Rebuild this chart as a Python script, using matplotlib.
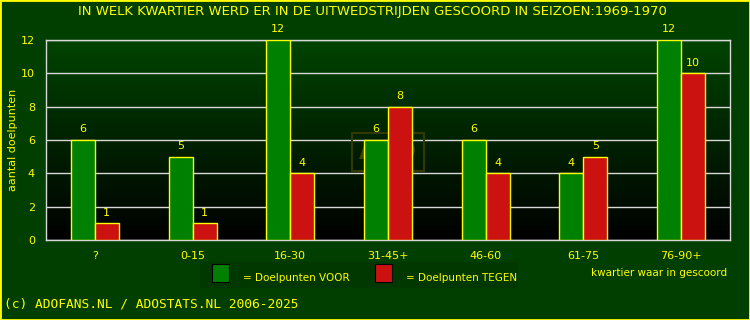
import numpy as np
import matplotlib
matplotlib.use("Agg")
import matplotlib.pyplot as plt
from matplotlib.patches import Rectangle

# -------- DATA --------
categories = ["?", "0-15", "16-30", "31-45+", "46-60", "61-75", "76-90+"]
voor = [6, 5, 12, 6, 6, 4, 12]
tegen = [1, 1, 4, 8, 4, 5, 10]
yticks = [0, 2, 4, 6, 8, 10, 12]

BG = "#003f00"
YEL = "#ffff00"
GREEN = "#008000"
RED = "#cc1111"

fig = plt.figure(figsize=(7.5, 3.2), dpi=100, facecolor=BG)
ax = fig.add_axes([46 / 750, 1 - 240 / 320, 684 / 750, 200 / 320])
ax.set_facecolor("black")

# gradient background (dark green top -> black bottom)
grad = np.linspace(0, 1, 256).reshape(-1, 1)
cmap = matplotlib.colors.LinearSegmentedColormap.from_list("g", ["black", "#004400"])
ax.imshow(grad, aspect="auto", cmap=cmap, origin="lower",
          extent=[-0.5, len(categories) - 0.5, 0, 12], zorder=0)

x = np.arange(len(categories))
w = 0.245
ax.bar(x - w / 2, voor, w, color=GREEN, edgecolor=YEL, linewidth=1, zorder=3)
ax.bar(x + w / 2, tegen, w, color=RED, edgecolor=YEL, linewidth=1, zorder=3)

for i in range(len(categories)):
    ax.text(x[i] - w / 2, voor[i] + 0.35, str(voor[i]), color=YEL, fontsize=8,
            ha="center", va="bottom", zorder=4)
    ax.text(x[i] + w / 2, tegen[i] + 0.35, str(tegen[i]), color=YEL, fontsize=8,
            ha="center", va="bottom", zorder=4)

ax.set_xlim(-0.5, len(categories) - 0.5)
ax.set_ylim(0, 12)
ax.set_yticks(yticks)
ax.set_xticks(x)
ax.set_xticklabels(categories)
ax.tick_params(colors=YEL, labelsize=8, length=0, pad=8)
ax.grid(axis="y", color="#d8d8d8", linewidth=1, zorder=1)
for s in ax.spines.values():
    s.set_color("#d8d8d8")
    s.set_linewidth(1)

# faint watermark
ax.text(3, 5.3, "ADO", color="#3d4400", fontsize=17, fontweight="bold",
        ha="center", va="center", zorder=2,
        bbox=dict(boxstyle="square,pad=0.3", fc="none", ec="#333a00", lw=1.5))

fig.text(13 / 750, 1 - 140 / 320, "aantal doelpunten", color=YEL, fontsize=8,
         rotation=90, ha="center", va="center")

fig.text(0.497, 1 - 12 / 320, "IN WELK KWARTIER WERD ER IN DE UITWEDSTRIJDEN GESCOORD IN SEIZOEN:1969-1970",
         color=YEL, fontsize=9.5, ha="center", va="center")

# legend
fig.patches.append(Rectangle((200 / 750, 1 - 288 / 320), 318 / 750, 26 / 320,
                             transform=fig.transFigure, fc="#003800", ec="none"))
fig.patches.append(Rectangle((212 / 750, 1 - 282 / 320), 17 / 750, 18 / 320,
                             transform=fig.transFigure, fc=GREEN, ec="black", lw=0.8))
fig.patches.append(Rectangle((375 / 750, 1 - 282 / 320), 17 / 750, 18 / 320,
                             transform=fig.transFigure, fc=RED, ec="black", lw=0.8))
fig.text(243 / 750, 1 - 278 / 320, "= Doelpunten VOOR", color=YEL, fontsize=7.5, va="center")
fig.text(406 / 750, 1 - 278 / 320, "= Doelpunten TEGEN", color=YEL, fontsize=7.5, va="center")
fig.text(727 / 750, 1 - 273 / 320, "kwartier waar in gescoord", color=YEL, fontsize=7.5,
         ha="right", va="center")

fig.text(4 / 750, 1 - 304 / 320, "(c) ADOFANS.NL / ADOSTATS.NL 2006-2025", color=YEL,
         fontsize=9.3, family="DejaVu Sans Mono", va="center")

# yellow frame
fig.patches.append(Rectangle((0, 0), 1, 1, transform=fig.transFigure, fc="none",
                             ec=YEL, lw=2))

fig.savefig("out.png", dpi=100, facecolor=BG)
